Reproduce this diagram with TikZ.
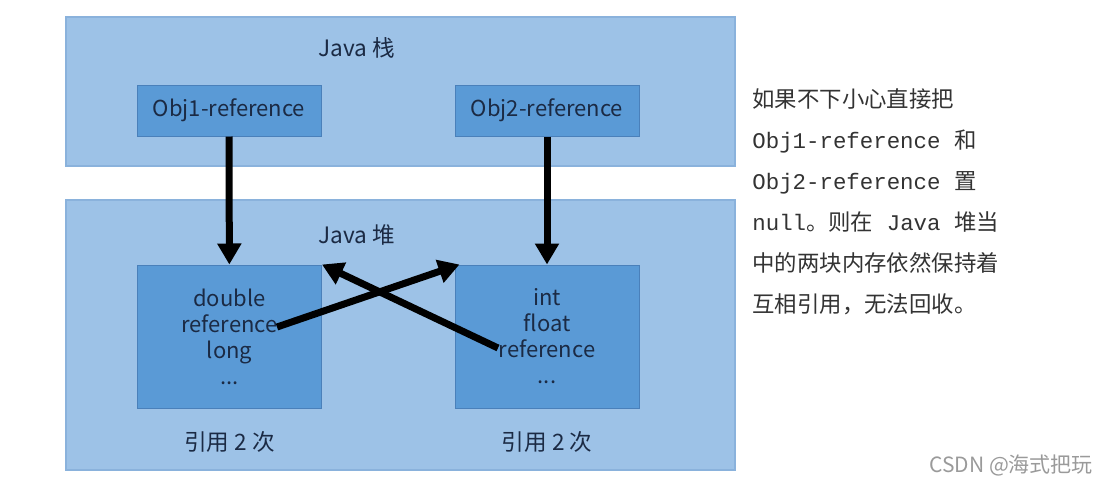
\documentclass[tikz,border=0pt]{standalone}
\usepackage{fontspec}
\setmainfont{Noto Sans CJK SC}
\newfontfamily\mono{Liberation Mono}
\usetikzlibrary{arrows.meta,positioning,calc}
\definecolor{ink}{HTML}{1B2A44}
\definecolor{ink2}{HTML}{333333}
\definecolor{muted}{HTML}{9A9A9A}
\definecolor{bandc}{HTML}{9DC2E7}
\definecolor{bandline}{HTML}{8AB2DC}
\definecolor{cellc}{HTML}{5A9AD6}
\definecolor{cellline}{HTML}{4A80BA}
\newcommand\diagfont{\fontsize{11}{13}\selectfont}
\tikzset{
  band/.style={fill=bandc, draw=bandline, line width=0.6pt, minimum width=334.5pt, inner sep=0pt},
  cell/.style={fill=cellc, draw=cellline, line width=0.5pt, minimum width=92pt, inner sep=0pt, align=center, text=ink, font=\diagfont},
  arr/.style={-{Triangle[length=10.5pt,width=11.5pt]}, line width=3.5pt, draw=black},
  lab/.style={text=ink, font=\fontsize{11.3}{13}\selectfont},
  note/.style={text=ink2, align=left, font=\fontsize{11.2}{20.5}\selectfont, inner sep=0pt},
}

\begin{document}
\begin{tikzpicture}[x=0.5pt, y=-0.5pt]
    \useasboundingbox (0,0) rectangle (1114,483);
    \node[band, minimum height=74.5pt] (stack) at (400.5,91.5) {};
    \node[band, minimum height=135pt] (heap) at (400.5,335) {};
    \node[lab] (tstack) at (357,48) {Java 栈};
    \node[lab] (theap) at (357,235) {Java 堆};
    \node[cell, minimum height=25.5pt] (o1) at (229,110.5) {Obj1-reference};
    \node[cell, minimum height=25.5pt] (o2) at (547,110.5) {Obj2-reference};
    \node[cell, minimum height=71.5pt] (h1) at (229.5,336.5) {double\\reference\\long\\...};
    \node[cell, minimum height=71.5pt] (h2) at (547,336.5) {int\\float\\reference\\...};
    \foreach \n in {h1, h2} \node[lab] (c\n) at ($(\n.south)+(0,33)$) {引用 2 次};
    \coordinate (r1) at (277,327);
    \coordinate (r2) at (498,348);
    \foreach \p/\q in {o1/h1, o2/h2} \draw[arr] (\p) -- (\q);
    \draw[arr] (r1) -- ($(h2.north west)+(5,0)$);
    \draw[arr] (r2) -- (h1.north east);
    \node[note, anchor=north west] (txt) at (752,88) {如果不下小心直接把\\{\mono Obj1-reference\ }和\\{\mono Obj2-reference\ }置\\{\mono null}。则在{\mono\ Java\ }堆当\\中的两块内存依然保持着\\互相引用，无法回收。};
    \node[text=muted, font=\fontsize{10.5}{12}\selectfont, anchor=east] (wm) at (1100,465) {CSDN @海式把玩};
  \end{tikzpicture}
\end{document}
